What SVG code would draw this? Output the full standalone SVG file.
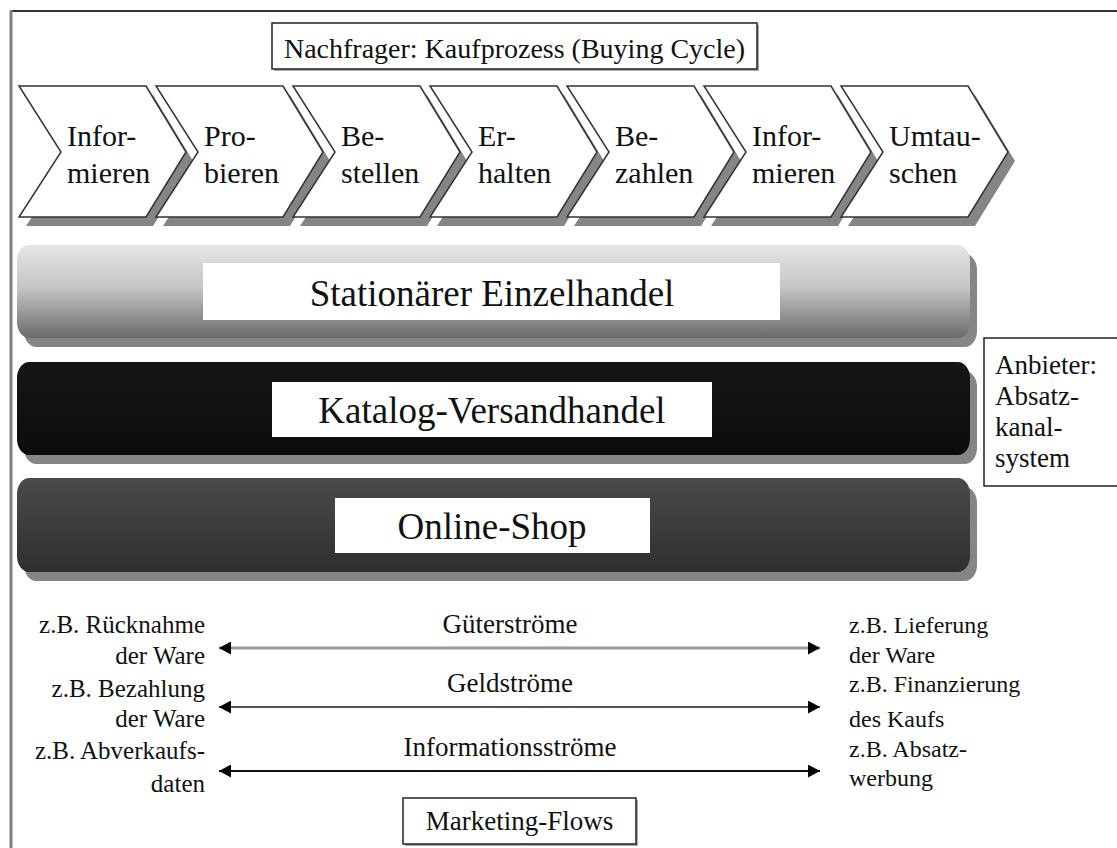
<svg xmlns="http://www.w3.org/2000/svg" xmlns:xlink="http://www.w3.org/1999/xlink" width="1117" height="848" viewBox="0 0 1117 848">
<defs>
<style>
text{font-family:"Liberation Serif","Times New Roman",serif;fill:#111}
.chev{fill:#fff;stroke:#333;stroke-width:1.5;stroke-linejoin:miter}
.sh{fill:#858585}
.ct{font-size:30px}
.wbox{fill:#fff}
.bt{font-size:37px;text-anchor:middle}
.lab{font-size:25px}
.rl{font-size:24px}
.flow{font-size:27px;text-anchor:middle}
.frame{fill:#fff;stroke:#222;stroke-width:1.5}
</style>
<path id="chevshape" d="M0,86 L127,86 L167,152 L127,217 L0,217 L42,152 Z"/>
<linearGradient id="g1" x1="0" y1="0" x2="0" y2="1">
<stop offset="0" stop-color="#e6e6e6"/><stop offset="0.45" stop-color="#c6c6c6"/><stop offset="1" stop-color="#6a6a6a"/>
</linearGradient>
<linearGradient id="g2" x1="0" y1="0" x2="0" y2="1">
<stop offset="0" stop-color="#161616"/><stop offset="1" stop-color="#0c0c0c"/>
</linearGradient>
<linearGradient id="g3" x1="0" y1="0" x2="0" y2="1">
<stop offset="0" stop-color="#4a4a4a"/><stop offset="1" stop-color="#2f2f2f"/>
</linearGradient>
<marker id="ah" viewBox="0 0 12 13" refX="12" refY="6.5" markerWidth="12" markerHeight="13" markerUnits="userSpaceOnUse" orient="auto-start-reverse">
<path d="M0,0 L12,6.5 L0,13 Z" fill="#000"/>
</marker>
</defs>

<g id="outer-frame">
<line x1="10" y1="11" x2="1117" y2="11" stroke="#333" stroke-width="2"/>
<line x1="11" y1="10" x2="11" y2="848" stroke="#808080" stroke-width="3"/>
</g>

<g id="title">
<rect x="274" y="25" width="485" height="46" fill="#aaa"/>
<rect x="272" y="23" width="485" height="46" class="frame"/>
<text x="514.5" y="58" font-size="28" text-anchor="middle">Nachfrager: Kaufprozess (Buying Cycle)</text>
</g>

<g id="chevron-1">
<use xlink:href="#chevshape" href="#chevshape" x="26" y="9" class="sh"/>
<use xlink:href="#chevshape" href="#chevshape" x="19" class="chev"/>
<text class="ct" x="67" y="146">Infor-</text><text class="ct" x="67" y="183">mieren</text>
</g>
<g id="chevron-2">
<use xlink:href="#chevshape" href="#chevshape" x="163" y="9" class="sh"/>
<use xlink:href="#chevshape" href="#chevshape" x="156" class="chev"/>
<text class="ct" x="204" y="146">Pro-</text><text class="ct" x="204" y="183">bieren</text>
</g>
<g id="chevron-3">
<use xlink:href="#chevshape" href="#chevshape" x="300" y="9" class="sh"/>
<use xlink:href="#chevshape" href="#chevshape" x="293" class="chev"/>
<text class="ct" x="341" y="146">Be-</text><text class="ct" x="341" y="183">stellen</text>
</g>
<g id="chevron-4">
<use xlink:href="#chevshape" href="#chevshape" x="437" y="9" class="sh"/>
<use xlink:href="#chevshape" href="#chevshape" x="430" class="chev"/>
<text class="ct" x="478" y="146">Er-</text><text class="ct" x="478" y="183">halten</text>
</g>
<g id="chevron-5">
<use xlink:href="#chevshape" href="#chevshape" x="574" y="9" class="sh"/>
<use xlink:href="#chevshape" href="#chevshape" x="567" class="chev"/>
<text class="ct" x="615" y="146">Be-</text><text class="ct" x="615" y="183">zahlen</text>
</g>
<g id="chevron-6">
<use xlink:href="#chevshape" href="#chevshape" x="711" y="9" class="sh"/>
<use xlink:href="#chevshape" href="#chevshape" x="704" class="chev"/>
<text class="ct" x="752" y="146">Infor-</text><text class="ct" x="752" y="183">mieren</text>
</g>
<g id="chevron-7">
<use xlink:href="#chevshape" href="#chevshape" x="848" y="9" class="sh"/>
<use xlink:href="#chevshape" href="#chevshape" x="841" class="chev"/>
<text class="ct" x="889" y="146">Umtau-</text><text class="ct" x="889" y="183">schen</text>
</g>

<g id="bar-stationaer">
<rect x="24" y="254" width="953" height="93" rx="12" ry="16" class="sh"/>
<rect x="17" y="245" width="953" height="93" rx="12" ry="16" fill="url(#g1)"/>
<rect x="203" y="263" width="577" height="57" class="wbox"/>
<text class="bt" x="492" y="306">Stationärer Einzelhandel</text>
</g>
<g id="bar-katalog">
<rect x="24" y="371" width="953" height="93" rx="12" ry="16" class="sh"/>
<rect x="17" y="362" width="953" height="93" rx="12" ry="16" fill="url(#g2)"/>
<rect x="272" y="382" width="440" height="55" class="wbox"/>
<text class="bt" x="492" y="423">Katalog-Versandhandel</text>
</g>
<g id="bar-online">
<rect x="24" y="487" width="953" height="94" rx="12" ry="16" class="sh"/>
<rect x="17" y="478" width="953" height="94" rx="12" ry="16" fill="url(#g3)"/>
<rect x="335" y="498" width="315" height="55" class="wbox"/>
<text class="bt" x="492" y="539">Online-Shop</text>
</g>

<g id="anbieter">
<rect x="984" y="338" width="140" height="148" class="frame"/>
<text font-size="27" x="995" y="374">Anbieter:</text>
<text font-size="27" x="995" y="405">Absatz-</text>
<text font-size="27" x="995" y="436">kanal-</text>
<text font-size="27" x="995" y="467">system</text>
</g>

<g id="connectors">
<line x1="219" y1="648" x2="820" y2="648" stroke="#9a9a9a" stroke-width="3" marker-start="url(#ah)" marker-end="url(#ah)"/>
<line x1="219" y1="707" x2="820" y2="707" stroke="#555" stroke-width="2" marker-start="url(#ah)" marker-end="url(#ah)"/>
<line x1="219" y1="771" x2="820" y2="771" stroke="#111" stroke-width="2" marker-start="url(#ah)" marker-end="url(#ah)"/>
</g>

<g id="flow-labels">
<text class="flow" x="510" y="633">Güterströme</text>
<text class="flow" x="510" y="692">Geldströme</text>
<text class="flow" x="510" y="756">Informationsströme</text>
</g>

<g id="left-labels" text-anchor="end">
<text class="lab" x="205" y="633" text-anchor="end">z.B. Rücknahme</text>
<text class="lab" x="205" y="664" text-anchor="end">der Ware</text>
<text class="lab" x="205" y="697" text-anchor="end">z.B. Bezahlung</text>
<text class="lab" x="205" y="727" text-anchor="end">der Ware</text>
<text class="lab" x="205" y="759" text-anchor="end">z.B. Abverkaufs-</text>
<text class="lab" x="205" y="792" text-anchor="end">daten</text>
</g>

<g id="right-labels">
<text class="rl" x="849" y="633">z.B. Lieferung</text>
<text class="rl" x="849" y="663">der Ware</text>
<text class="rl" x="849" y="692">z.B. Finanzierung</text>
<text class="rl" x="849" y="727">des Kaufs</text>
<text class="rl" x="849" y="757">z.B. Absatz-</text>
<text class="rl" x="849" y="786">werbung</text>
</g>

<g id="marketing-flows">
<rect x="405" y="800" width="233" height="46" fill="#aaa"/>
<rect x="403" y="798" width="233" height="46" class="frame"/>
<text x="519.5" y="830" font-size="27" text-anchor="middle">Marketing-Flows</text>
</g>
</svg>
